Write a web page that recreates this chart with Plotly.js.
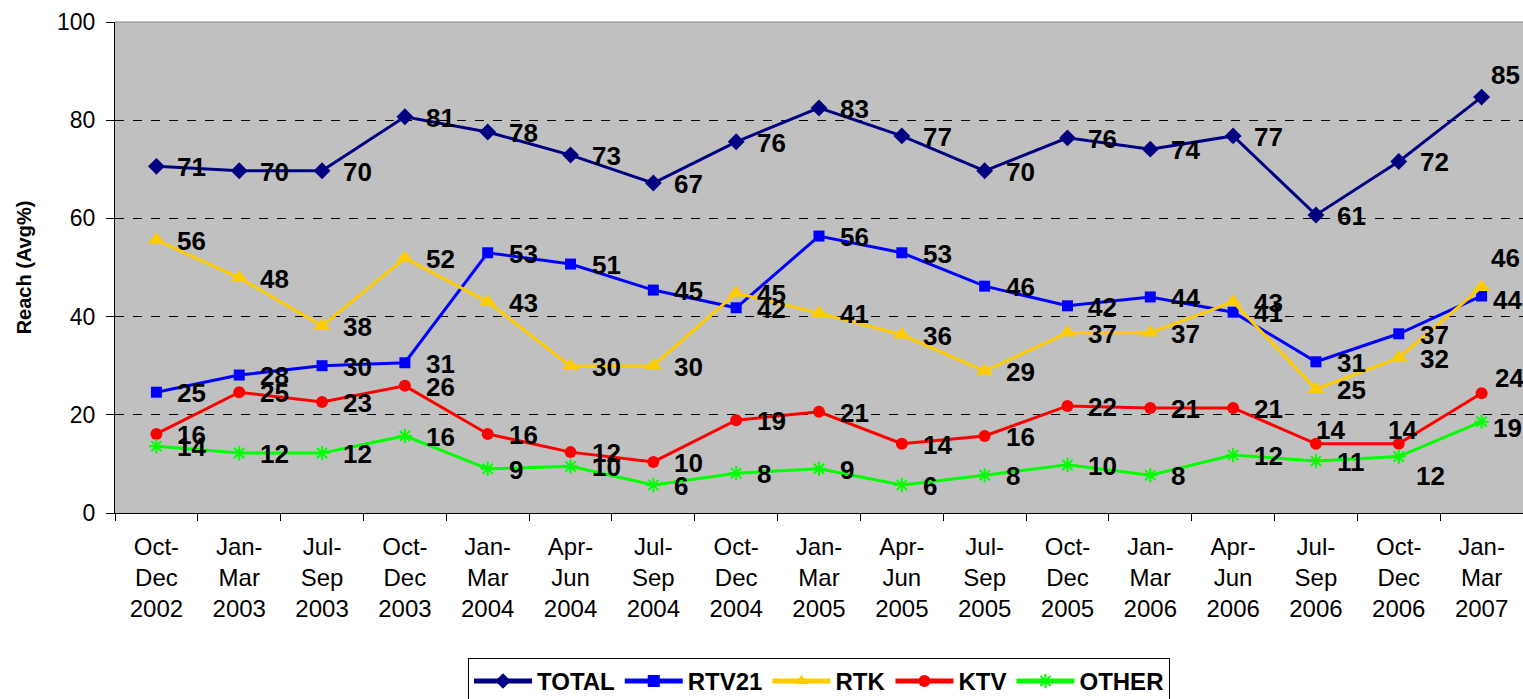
<!DOCTYPE html>
<html>
<head>
<meta charset="utf-8">
<script src="https://cdn.plot.ly/plotly-3.0.1.min.js"></script>
<style>html,body{margin:0;padding:0;background:#fff;}#chart{width:1523px;height:699px;}</style>
</head>
<body>
<div id="chart"></div>
<script>
var categories = ["Oct-Dec 2002","Jan-Mar 2003","Jul-Sep 2003","Oct-Dec 2003","Jan-Mar 2004","Apr-Jun 2004","Jul-Sep 2004","Oct-Dec 2004","Jan-Mar 2005","Apr-Jun 2005","Jul-Sep 2005","Oct-Dec 2005","Jan-Mar 2006","Apr-Jun 2006","Jul-Sep 2006","Oct-Dec 2006","Jan-Mar 2007"];
var tickLabels = ["Oct-<br>Dec<br>2002","Jan-<br>Mar<br>2003","Jul-<br>Sep<br>2003","Oct-<br>Dec<br>2003","Jan-<br>Mar<br>2004","Apr-<br>Jun<br>2004","Jul-<br>Sep<br>2004","Oct-<br>Dec<br>2004","Jan-<br>Mar<br>2005","Apr-<br>Jun<br>2005","Jul-<br>Sep<br>2005","Oct-<br>Dec<br>2005","Jan-<br>Mar<br>2006","Apr-<br>Jun<br>2006","Jul-<br>Sep<br>2006","Oct-<br>Dec<br>2006","Jan-<br>Mar<br>2007"];
var total = [70.6,69.7,69.7,80.7,77.6,72.9,67.2,75.6,82.5,76.8,69.7,76.4,74.1,76.8,60.7,71.6,84.7];
var rtv21 = [24.6,28.1,30.0,30.6,53.0,50.7,45.4,41.8,56.4,53.0,46.2,42.2,44.0,40.9,30.8,36.5,44.2];
var rtk   = [55.6,47.9,38.1,51.9,43.0,29.9,30.0,44.8,40.7,36.3,28.9,36.7,36.7,43.0,25.2,31.6,46.0];
var ktv   = [16.1,24.6,22.6,25.9,16.1,12.4,10.4,18.9,20.6,14.1,15.7,21.8,21.4,21.4,14.1,14.1,24.4];
var other = [13.6,12.2,12.2,15.7,9.0,9.5,5.7,8.1,9.0,5.7,7.7,9.8,7.7,11.8,10.6,11.5,18.6];
var yTicks = [0,20,40,60,80,100];

var FONT = "Liberation Sans, Arial, sans-serif";

function series(name, y, color, symbol, size){
  return {
    type: "scatter", mode: "lines+markers", name: name,
    x: categories, y: y,
    line: {color: color, width: 3},
    marker: {color: color, symbol: symbol, size: size, line: {color: color, width: symbol.indexOf("open")>=0 ? 2 : 0}},
    cliponaxis: false,
    hoverinfo: "x+y"
  };
}
var data = [
  series("TOTAL", total, "#000080", "diamond", 13),
  series("RTV21", rtv21, "#0000FF", "square", 11),
  series("RTK", rtk, "#FFCC00", "triangle-up", 15),
  series("KTV", ktv, "#FF0000", "circle", 12),
  series("OTHER", other, "#00FF00", "asterisk-open", 12)
];

// data labels (position tweaks keyed by point index)
var annotations = [];
function addLabels(vals, tweaks){
  for (var i = 0; i < vals.length; i++){
    var t = tweaks[i] || [19, -1];
    annotations.push({
      x: categories[i], y: vals[i], xref: "x", yref: "y",
      text: "<b>" + Math.round(vals[i]) + "</b>",
      showarrow: false, xanchor: "left", yanchor: "middle",
      xshift: t[0], yshift: t[1],
      font: {family: FONT, size: 26, color: "#000"}
    });
  }
}
addLabels(total, {16: [7, 22]});
addLabels(rtv21, {16: [9, -4]});
addLabels(rtk, {16: [7, 29]});
addLabels(ktv, {14: [-2, 14], 15: [-13, 14], 16: [11, 15]});
addLabels(other, {15: [15, -19], 16: [9, -6]});

var layout = {
  width: 1523, height: 699,
  margin: {l: 115, r: 0, t: 22, b: 186, pad: 0, autoexpand: false},
  paper_bgcolor: "#FFFFFF",
  plot_bgcolor: "#C0C0C0",
  showlegend: true,
  font: {family: FONT, color: "#000"},
  xaxis: {
    type: "category",
    range: [-0.5, 16.5],
    tickmode: "array", tickvals: categories, ticktext: tickLabels,
    tickson: "boundaries",
    ticks: "outside", ticklen: 7, tickwidth: 1, tickcolor: "#000",
    tickfont: {family: FONT, size: 24, color: "#000"},
    ticklabelstandoff: 12,
    tickangle: 0,
    showgrid: false, zeroline: false,
    showline: true, linecolor: "#000", linewidth: 1,
    fixedrange: true, automargin: false
  },
  yaxis: {
    range: [0, 100],
    tickmode: "array", tickvals: yTicks,
    ticks: "outside", ticklen: 8, tickwidth: 1, tickcolor: "#000",
    tickfont: {family: FONT, size: 23, color: "#000"},
    ticklabelstandoff: 6,
    showgrid: true, gridcolor: "#000", griddash: "dash", gridwidth: 1,
    zeroline: false,
    showline: true, linecolor: "#000", linewidth: 1,
    title: {text: "<b>Reach (Avg%)</b>", font: {family: FONT, size: 20, color: "#000"}, standoff: 20},
    fixedrange: true, automargin: false
  },
  legend: {
    orientation: "h",
    x: 0.5, xanchor: "center",
    y: -0.295, yanchor: "top",
    bordercolor: "#000", borderwidth: 1,
    bgcolor: "#FFFFFF",
    font: {family: FONT, size: 24, color: "#000", weight: "bold"},
    itemwidth: 58,
    itemsizing: "constant"
  },
  annotations: annotations,
  shapes: [
    {type: "line", xref: "paper", yref: "paper", x0: 0, x1: 1, y0: 1, y1: 1, line: {color: "#808080", width: 1}}
  ]
};
Plotly.newPlot("chart", data, layout, {displayModeBar: false, staticPlot: true});
</script>
</body>
</html>
